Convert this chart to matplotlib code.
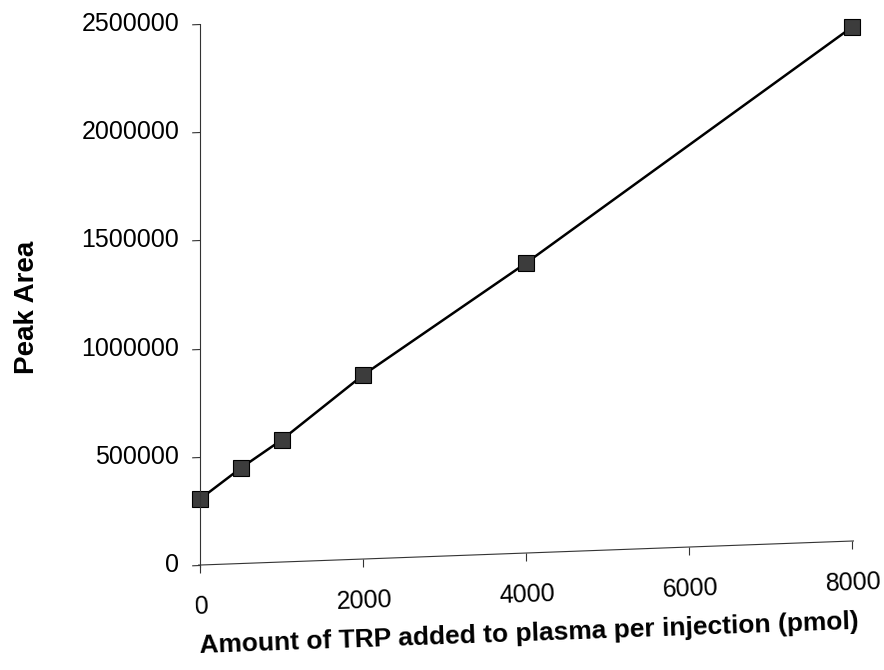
import numpy as np
import matplotlib
matplotlib.use("Agg")
import matplotlib.pyplot as plt
from matplotlib.transforms import Affine2D
from mpl_toolkits.axisartist import Axes, GridHelperCurveLinear
from mpl_toolkits.axisartist.grid_finder import FixedLocator

# calibration: TRP spiked into plasma vs. peak area
amount = [0, 500, 1000, 2000, 4000, 8000]          # pmol per injection
peak_area = [305000, 441000, 564000, 850000, 1340000, 2375000]

x_ticks = [0, 2000, 4000, 6000, 8000]
y_ticks = [0, 500000, 1000000, 1500000, 2000000, 2500000]

# the printed page is slightly skewed: the x axis climbs as it goes right
skew = 110900 / 8000
tr = Affine2D(np.array([[1.0, 0.0, 0.0], [skew, 1.0, 0.0], [0.0, 0.0, 1.0]]))


def plain_fmt(direction, factor, values):
    return [f"{v:.0f}" for v in values]


grid_helper = GridHelperCurveLinear(
    tr,
    grid_locator1=FixedLocator(x_ticks),
    grid_locator2=FixedLocator(y_ticks),
    tick_formatter1=plain_fmt,
    tick_formatter2=plain_fmt,
)

fig = plt.figure(figsize=(8.84, 6.70), dpi=100)
ax = fig.add_axes([0.2240, 0.1528, 0.7421, 0.8113], axes_class=Axes,
                  grid_helper=grid_helper)
ax.set_xlim(-25, 8025)
ax.set_ylim(-12000, 2500000)

for side in ["bottom", "top", "left", "right"]:
    ax.axis[side].set_visible(False)

xa = ax.new_floating_axis(1, 0)
ya = ax.new_floating_axis(0, 0)
ax.axis["xa"] = xa
ax.axis["ya"] = ya
xa.set_axis_direction("bottom")
ya.set_axis_direction("left")

font = "Liberation Sans"
for axis in (xa, ya):
    axis.line.set_color("#333333")
    axis.line.set_linewidth(0.8)
    axis.major_ticks.set_tick_out(True)
    axis.major_ticks.set_ticksize(6)
    axis.major_ticks.set_color("#333333")
    axis.major_ticklabels.set_fontsize(18)
    axis.major_ticklabels.set_fontfamily(font)
    axis.minor_ticks.set_visible(False)
    axis.minor_ticklabels.set_visible(False)

xa.major_ticklabels.set_pad(16)
ya.major_ticklabels.set_pad(9)

xa.label.set_text("Amount of TRP added to plasma per injection (pmol)")
ya.label.set_text("Peak Area")
for axis in (xa, ya):
    axis.label.set_visible(True)
    axis.label.set_fontfamily(font)
    axis.label.set_fontweight("bold")
xa.label.set_fontsize(19)
ya.label.set_fontsize(20)
xa.label.set_pad(15)
ya.label.set_pad(30)

ax.plot(amount, peak_area, transform=tr + ax.transData, color="black",
        linewidth=1.8, marker="s", markersize=11,
        markerfacecolor="#3c3c3c", markeredgecolor="black",
        markeredgewidth=0.8, clip_on=False)

ax.grid(False)
fig.savefig("out.png", dpi=100)
